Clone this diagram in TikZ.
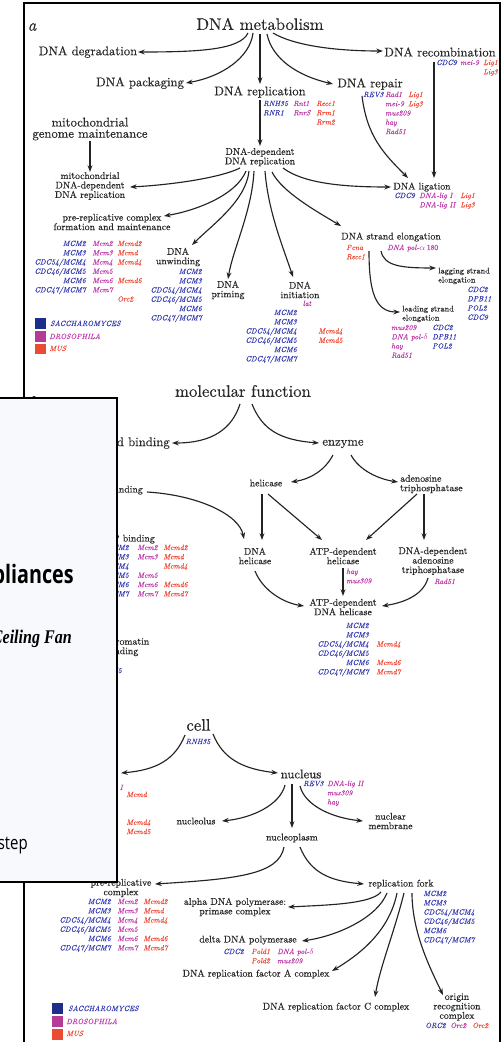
\documentclass[tikz,border=0pt]{standalone}
\usepackage{fontspec}
\usetikzlibrary{arrows.meta,calc}
% 10pt design size at every size, slightly emboldened for a print-like weight
\newfontfamily\labfont{lmroman10-regular.otf}[FakeBold=0.35]
\newfontfamily\genefont{lmroman10-italic.otf}[FakeBold=0.2]
\newfontfamily\lblfont{lmroman10-italic.otf}[FakeBold=0.3]
\newfontfamily\uisans{Open Sans}
\newfontfamily\uiserif{Liberation Serif}
\definecolor{txt}{RGB}{40,40,40}
\definecolor{lnc}{RGB}{35,35,35}
\definecolor{sacc}{RGB}{55,60,175}
\definecolor{dros}{RGB}{190,60,170}
\definecolor{musc}{RGB}{240,75,55}
\definecolor{saccbox}{RGB}{30,45,140}
\definecolor{drosbox}{RGB}{180,60,150}
\definecolor{musbox}{RGB}{235,75,50}
\definecolor{panelbg}{RGB}{248,249,252}
% one column of gene names; the baseline is that of the first row
\newcommand\gcol[2]{\begin{tabular}[t]{@{}#1@{}}#2\end{tabular}}

\begin{document}
\begin{tikzpicture}[x=0.75pt,y=-0.75pt,
  every node/.style={inner sep=0pt,text=txt},
  ttl/.style={font=\labfont\fontsize{12.5}{14}\selectfont},
  lone/.style={font=\labfont\fontsize{9.5}{8.4}\selectfont,align=center},
  ltwo/.style={font=\labfont\fontsize{7.3}{7.1}\selectfont,align=center},
  lthree/.style={font=\labfont\fontsize{6.2}{6.8}\selectfont,align=left},
  gene/.style={font=\genefont\fontsize{5.7}{6.95}\selectfont},
  sac/.style={gene,text=sacc},
  dro/.style={gene,text=dros},
  musg/.style={gene,text=musc},
  conn/.style={draw=lnc,line width=0.85pt,-{Stealth[length=5pt,width=3.6pt]}},
  panellbl/.style={font=\lblfont\fontsize{12.5}{14}\selectfont}]
\useasboundingbox (0,0) rectangle (502,1042);
\fill[white] (0,0) rectangle (502,1042);

% frame
\draw[line width=1.1pt] (24,1046) -- (24,3) -- (500,3) -- (500,1046);

% ===================== a: DNA metabolism =====================
\node[panellbl] (lbla) at (32,27) {a};
\node[ttl] (dm) at (260,24) {DNA metabolism};
\node[lone] (deg) at (88,52) {DNA degradation};
\node[lone] (pack) at (140,83) {DNA packaging};
\node[lone] (rec) at (440,52) {DNA recombination};
\node[lone] (repl) at (260,92) {DNA replication};
\node[lone] (repair) at (370,84) {DNA repair};
\node[lone] (mito) at (90,129) {mitochondrial\\genome maintenance};
\node[ltwo] (ddr) at (260,157) {DNA-dependent\\DNA replication};
\node[ltwo] (mddr) at (90,186) {mitochondrial\\DNA-dependent\\DNA replication};
\node[ltwo] (prc) at (112,222) {pre-replicative complex\\formation and maintenance};
\node[ltwo] (unw) at (178,257) {DNA\\unwinding};
\node[ltwo] (prim) at (228,290) {DNA\\priming};
\node[ltwo] (init) at (300,290) {DNA\\initiation};
\node[ltwo] (lig) at (422,187) {DNA ligation};
\node[ltwo] (elong) at (391,237) {DNA strand elongation};
\node[lthree,anchor=west] (lag) at (438,276) {lagging strand\\elongation};
\node[lthree,anchor=west] (lead) at (402,314) {leading strand\\elongation};

% genes, panel a
\node[sac,anchor=base west] (gRepl1) at (263,106) {\gcol{l}{RNH35\\RNR1}};
\node[dro,anchor=base west] (gRepl2) at (293,106) {\gcol{l}{Rnt1\\RnrS}};
\node[musg,anchor=base west] (gRepl3) at (316,106) {\gcol{l}{Recc1\\Rrm1\\Rrm2}};
\node[sac,anchor=base west] (gRep1) at (363,97) {REV3};
\node[dro,anchor=base west] (gRep2) at (385,97) {\gcol{l}{Rad1\\mei-9\\mus209\\hay\\Rad51}};
\node[musg,anchor=base west] (gRep3) at (408,97) {\gcol{l}{Lig1\\Lig3}};
\node[sac,anchor=base west] (gRec1) at (436,65) {CDC9};
\node[dro,anchor=base west] (gRec2) at (460,65) {mei-9};
\node[musg,anchor=base west] (gRec3) at (483,65) {\gcol{l}{Lig1\\Lig3}};
\node[sac,anchor=base east] (gPrc1) at (86,246) {\gcol{r}{MCM2\\MCM3\\CDC54/MCM4\\CDC46/MCM5\\MCM6\\CDC47/MCM7}};
\node[dro,anchor=base west] (gPrc2) at (92,246) {\gcol{l}{Mcm2\\Mcm3\\Mcm4\\Mcm5\\Mcm6\\Mcm7}};
\node[musg,anchor=base west] (gPrc3) at (117,246) {\gcol{l}{Mcmd2\\Mcmd\\Mcmd4\\ \\Mcmd6\\ \\Orc2}};
\node[sac,anchor=base east] (gUnw) at (202,274) {\gcol{r}{MCM2\\MCM3\\CDC54/MCM4\\CDC46/MCM5\\MCM6\\CDC47/MCM7}};
\node[dro,anchor=base] (gInit0) at (307,306) {lat};
\node[sac,anchor=base east] (gInit1) at (297,315) {\gcol{r}{MCM2\\MCM3\\CDC54/MCM4\\CDC46/MCM5\\MCM6\\CDC47/MCM7}};
\node[musg,anchor=base west] (gInit2) at (318,315) {\gcol{l}{\mbox{}\\ \\Mcmd4\\Mcmd5}};
\node[sac,anchor=base west] (gLig1) at (394,198) {CDC9};
\node[dro,anchor=base west] (gLig2) at (419,198) {\gcol{l}{DNA-lig I\\DNA-lig II}};
\node[musg,anchor=base west] (gLig3) at (460,198) {\gcol{l}{Lig1\\Lig3}};
\node[musg,anchor=base west] (gEl1) at (346,250) {\gcol{l}{Pcna\\Recc1}};
\node[dro,anchor=base west] (gEl2) at (387,250) {DNA pol-$\alpha$\,{\labfont 180}};
\node[sac,anchor=base west] (gLag) at (467,292) {\gcol{l}{CDC2\\DPB11\\POL2\\CDC9}};
\node[dro,anchor=base west] (gLead1) at (391,330) {\gcol{l}{mus209\\DNA pol-$\delta$\\hay\\Rad51}};
\node[sac,anchor=base west] (gLead2) at (432,330) {\gcol{l}{CDC2\\DPB11\\POL2}};

% legend, panel a
\fill[saccbox] (35,318) rectangle (46,329);
\fill[drosbox] (35,331) rectangle (46,342);
\fill[musbox] (35,344) rectangle (46,354);
\node[sac,anchor=base west] (legA1) at (50,326) {SACCHAROMYCES};
\node[dro,anchor=base west] (legA2) at (49,339) {DROSOPHILA};
\node[musg,anchor=base west] (legA3) at (49,351) {MUS};

% connectors, panel a
\draw[conn] ($(dm)+(-12,9)$) .. controls +(-8,17) and +(60,0) .. ($(deg)+(50,0)$);
\draw[conn] ($(dm)+(-7,9)$) .. controls +(-3,25) and +(35,-6) .. ($(pack)+(46,0)$);
\draw[conn] ($(dm)+(0,10)$) -- ($(repl)+(0,-8)$);
\draw[conn] ($(dm)+(7,10)$) .. controls +(5,25) and +(-35,-8) .. ($(repair)+(-37,0)$);
\draw[conn] ($(dm)+(13,9)$) .. controls +(20,12) and +(-50,0) .. ($(rec)+(-57,-1)$);
\draw[conn] ($(rec)+(-6,10)$) -- ($(lig)+(12,-9)$);
\draw[conn] ($(repair)+(-8,12)$) .. controls +(5,40) and +(-25,-25) .. ($(lig)+(-14,-9)$);
\draw[conn] ($(repl)+(0,8)$) -- ($(ddr)+(0,-11)$);
\draw[conn] ($(mito)+(0,12)$) -- ($(mddr)+(0,-14)$);
\draw[conn] ($(ddr)+(-20,11)$) .. controls +(-20,10) and +(40,-2) .. ($(mddr)+(40,1)$);
\draw[conn] ($(ddr)+(-14,14)$) .. controls +(-10,25) and +(30,-5) .. ($(prc)+(52,-6)$);
\draw[conn] ($(ddr)+(-11,14)$) .. controls +(-3,30) and +(20,-20) .. ($(unw)+(14,-12)$);
\draw[conn] ($(ddr)+(-6,14)$) .. controls +(-2,40) and +(5,-30) .. ($(prim)+(0,-11)$);
\draw[conn] ($(ddr)+(5,14)$) .. controls +(3,40) and +(-10,-30) .. ($(init)+(-7,-13)$);
\draw[conn] ($(ddr)+(23,11)$) .. controls +(20,15) and +(-50,0) .. ($(lig)+(-31,0)$);
\draw[conn] ($(ddr)+(12,15)$) .. controls +(10,20) and +(-25,-15) .. ($(elong)+(-50,-11)$);
\draw[conn] ($(elong)+(-22,14)$) .. controls +(0,40) and +(-25,0) .. ($(lead.west)+(-2,-2)$);
\draw[conn] ($(elong)+(-10,14)$) .. controls +(3,15) and +(-35,0) .. ($(lag.west)+(-2,-8)$);

% ===================== b: molecular function =====================
\node[panellbl] (lblb) at (34,402) {b};
\node[ttl] (mf) at (243,391) {molecular function};
\node[lone,anchor=east] (nab) at (170,443) {nucleic acid binding};
\node[lone] (enz) at (343,444) {enzyme};
\node[ltwo,anchor=east] (dnab) at (143,490) {DNA binding};
\node[ltwo] (hel) at (266,483) {helicase};
\node[ltwo,align=left,anchor=west] (atpase) at (400,484) {adenosine\\triphosphatase};
\node[ltwo] (dnahel) at (255,556) {DNA\\helicase};
\node[ltwo] (atphel) at (343,556) {ATP-dependent\\helicase};
\node[ltwo] (ddat) at (433,561) {DNA-dependent\\adenosine\\triphosphatase};
\node[ltwo] (atpdh) at (343,607) {ATP-dependent\\DNA helicase};
\node[ltwo,anchor=east] (atpb) at (155,539) {ATP binding};
\node[ltwo,align=left,anchor=west] (chrb) at (106,647) {chromatin\\binding};

% genes, panel b
\node[sac,anchor=base east] (gAb1) at (129,550) {\gcol{r}{MCM2\\MCM3\\CDC54/MCM4\\CDC46/MCM5\\MCM6\\CDC47/MCM7}};
\node[dro,anchor=base west] (gAb2) at (137,550) {\gcol{l}{Mcm2\\Mcm3\\ \\Mcm5\\Mcm6\\Mcm7}};
\node[musg,anchor=base west] (gAb3) at (163,550) {\gcol{l}{Mcmd2\\Mcmd\\Mcmd4\\ \\Mcmd6\\Mcmd7}};
\node[sac,anchor=base east] (gChr) at (122,673) {MCM5};
\node[dro,anchor=base west] (gAtph) at (346,574) {\gcol{l}{hay\\mus309}};
\node[dro,anchor=base west] (gDdat) at (434,584) {Rad51};
\node[sac,anchor=base east] (gDh1) at (369,628) {\gcol{r}{MCM2\\MCM3\\CDC54/MCM4\\CDC46/MCM5\\MCM6\\CDC47/MCM7}};
\node[musg,anchor=base west] (gDh2) at (376,628) {\gcol{l}{\mbox{}\\ \\Mcmd4\\ \\Mcmd6\\Mcmd7}};

% connectors, panel b
\draw[conn] ($(mf)+(-3,13)$) .. controls +(-8,25) and +(40,0) .. ($(nab.east)+(2,0)$);
\draw[conn] ($(mf)+(9,13)$) .. controls +(10,25) and +(-40,-3) .. ($(enz)+(-24,-1)$);
\draw[conn] ($(dnab.east)+(4,2)$) .. controls +(50,3) and +(-5,-25) .. ($(dnahel)+(-11,-17)$);
\draw[conn] ($(enz)+(-10,11)$) .. controls +(-8,15) and +(20,-3) .. ($(hel)+(25,-1)$);
\draw[conn] ($(enz)+(8,11)$) .. controls +(8,15) and +(-20,-3) .. ($(atpase.west)+(-2,-2)$);
\draw[conn] ($(hel)+(-4,11)$) -- ($(dnahel)+(7,-16)$);
\draw[conn] ($(hel)+(2,11)$) -- ($(atphel)+(-21,-16)$);
\draw[conn] ($(atpase.west)+(17,10)$) -- ($(atphel)+(23,-16)$);
\draw[conn] ($(atpase.west)+(24,10)$) -- ($(ddat)+(-9,-21)$);
\draw[conn] ($(atphel)+(0,12)$) -- ($(atpdh)+(0,-11)$);
\draw[conn] ($(dnahel)+(0,15)$) .. controls +(8,20) and +(-20,-3) .. ($(atpdh)+(-39,-1)$);
\draw[conn] ($(ddat)+(-5,17)$) .. controls +(-5,18) and +(20,-3) .. ($(atpdh)+(39,-1)$);

% ===================== c: cell =====================
\node[ttl] (cell) at (198.5,725) {cell};
\coordinate (chromc) at (121,773);
\node[lone] (nucleus) at (301,774) {nucleus};
\node[ltwo] (nucleolus) at (196,821) {nucleolus};
\node[ltwo] (nucmem) at (390.5,821) {nuclear\\membrane};
\node[ltwo] (nucpl) at (292,838) {nucleoplasm};
\node[ltwo] (prc2) at (121,888) {pre-replicative\\complex};
\node[ltwo] (fork) at (401,884) {replication fork};
\node[ltwo] (alpha) at (235,907) {alpha DNA polymerase:\\primase complex};
\node[ltwo] (delta) at (248,940) {delta DNA polymerase};
\node[ltwo] (rfa) at (256,974) {DNA replication factor A complex};
\node[ltwo] (rfc) at (336,1007) {DNA replication factor C complex};
\node[ltwo] (orc) at (457,1007) {origin\\recognition\\complex};

% genes, panel c
\node[sac,anchor=base] (gCell) at (198,744) {RNH35};
\node[dro,anchor=base east] (gChrom1) at (123,790) {DNA-lig I};
\node[musg,anchor=base west] (gChrom2) at (126,797) {\gcol{l}{Mcmd\\ \\ \\Mcmd4\\Mcmd5}};
\node[sac,anchor=base west] (gNuc1) at (303,786) {REV3};
\node[dro,anchor=base west] (gNuc2) at (327,786) {\gcol{l}{DNA-lig II\\mus309\\hay}};
\node[sac,anchor=base east] (gPrcB1) at (111,904) {\gcol{r}{MCM2\\MCM3\\CDC54/MCM4\\CDC46/MCM5\\MCM6\\CDC47/MCM7}};
\node[dro,anchor=base west] (gPrcB2) at (117,904) {\gcol{l}{Mcm2\\Mcm3\\Mcm4\\Mcm5\\Mcm6\\Mcm7}};
\node[musg,anchor=base west] (gPrcB3) at (143,904) {\gcol{l}{Mcmd2\\Mcmd\\Mcmd4\\ \\Mcmd6\\Mcmd7}};
\node[sac,anchor=base west] (gFork) at (423,896) {\gcol{l}{MCM2\\MCM3\\CDC54/MCM4\\CDC46/MCM5\\MCM6\\CDC47/MCM7}};
\node[sac,anchor=base west] (gDel1) at (223,954) {CDC2};
\node[musg,anchor=base west] (gDel2) at (251,954) {\gcol{l}{Pold1\\Pold2}};
\node[dro,anchor=base west] (gDel3) at (277,954) {\gcol{l}{DNA pol-$\delta$\\mus209}};
\node[sac,anchor=base west] (gOrc1) at (425,1028) {ORC2};
\node[dro,anchor=base west] (gOrc2) at (450,1028) {Orc2};
\node[musg,anchor=base west] (gOrc3) at (472,1028) {Orc2};

% legend, panel c
\fill[saccbox] (52,1003) rectangle (63,1014);
\fill[drosbox] (52,1016) rectangle (63,1027);
\fill[musbox] (52,1029) rectangle (63,1040);
\node[sac,anchor=base west] (legC1) at (68,1011) {SACCHAROMYCES};
\node[dro,anchor=base west] (legC2) at (66,1024) {DROSOPHILA};
\node[musg,anchor=base west] (legC3) at (66,1036) {MUS};

% connectors, panel c
\draw[conn] ($(cell)+(-13.5,10)$) .. controls +(-10,25) and +(35,-3) .. (chromc);
\draw[conn] ($(cell)+(14.5,9)$) .. controls +(10,25) and +(-35,-4) .. ($(nucleus)+(-23,-1)$);
\draw[conn] ($(nucleus)+(-16,11)$) .. controls +(-5,20) and +(30,-3) .. ($(nucleolus)+(26,0)$);
\draw[conn] ($(nucleus)+(-9,10)$) -- ($(nucpl)+(0,-10)$);
\draw[conn] ($(nucleus)+(-1,12)$) .. controls +(5,20) and +(-30,-3) .. ($(nucmem)+(-27.5,0)$);
\draw[conn] ($(nucpl)+(-8,9)$) .. controls +(-5,28) and +(80,-5) .. ($(prc2)+(34,-4)$);
\draw[conn] ($(nucpl)+(8,9)$) .. controls +(10,25) and +(-35,-3) .. ($(fork)+(-37,0)$);
\draw[conn] ($(fork)+(-20,8)$) .. controls +(-10,12) and +(40,-2) .. ($(alpha)+(53,0)$);
\draw[conn] ($(fork)+(-14,9)$) .. controls +(-10,25) and +(35,-5) .. ($(delta)+(54,1)$);
\draw[conn] ($(fork)+(-4,9)$) .. controls +(-8,40) and +(25,-15) .. ($(rfa)+(76,-3)$);
\draw[conn] ($(fork)+(3,9)$) .. controls +(-10,40) and +(5,-30) .. ($(rfc)+(39,-10)$);
\draw[conn] ($(fork)+(11,9)$) .. controls +(0,40) and +(-12,-25) .. ($(orc)+(-14,-12)$);

% ===================== window lying over the left side =====================
\fill[panelbg] (-4,398) rectangle (117,882);
\begin{scope}
  \clip (-4,398) rectangle (117,882);
  \node[font=\uisans\bfseries\fontsize{19}{21}\selectfont,text=black,anchor=base east] (winA) at (74,583) {\scalebox{0.78}[1]{Appliances}};
  \node[font=\uiserif\bfseries\itshape\fontsize{14.5}{16}\selectfont,text=black,anchor=base east] (winB) at (72,643) {\scalebox{0.83}[1]{Ceiling Fan}};
  \node[font=\uisans\fontsize{14}{16}\selectfont,text=black,anchor=base east] (winC) at (28,849) {\scalebox{0.8}[1]{step}};
\end{scope}
\draw[line width=1.8pt] (-4,398) -- (117,398) -- (117,882) -- (-4,882);
\end{tikzpicture}
\end{document}
